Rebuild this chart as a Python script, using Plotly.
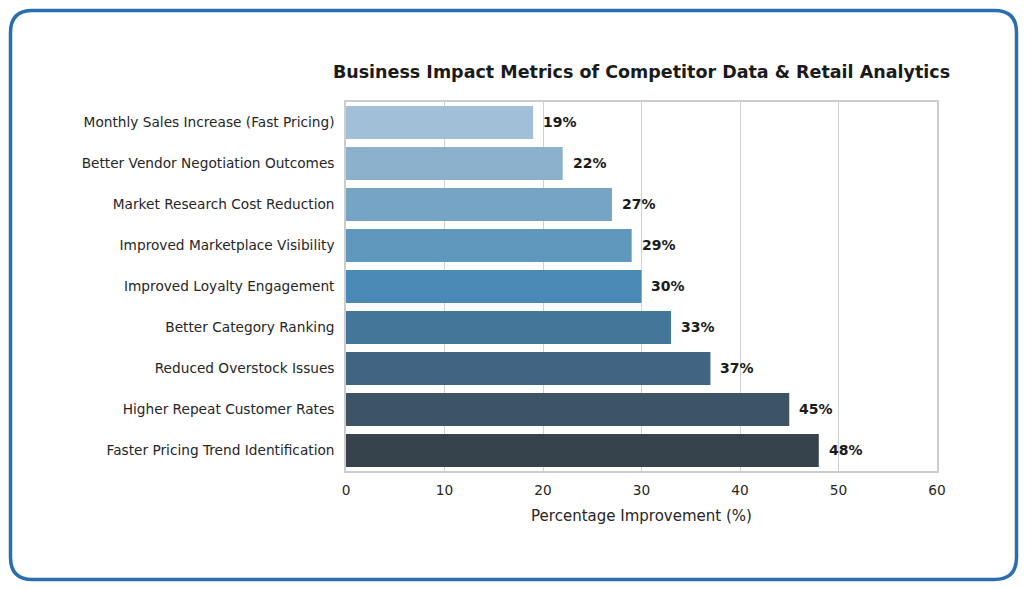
import plotly.graph_objects as go

categories = [
    "Monthly Sales Increase (Fast Pricing)",
    "Better Vendor Negotiation Outcomes",
    "Market Research Cost Reduction",
    "Improved Marketplace Visibility",
    "Improved Loyalty Engagement",
    "Better Category Ranking",
    "Reduced Overstock Issues",
    "Higher Repeat Customer Rates",
    "Faster Pricing Trend Identification",
]
values = [19, 22, 27, 29, 30, 33, 37, 45, 48]
colors = ["#a1bfd6", "#8ab0cb", "#76a4c5", "#6097bd", "#4a88b6",
          "#447699", "#416482", "#3c5466", "#36434c"]
x_ticks = [0, 10, 20, 30, 40, 50, 60]

W, H = 1026, 589
L, R, T, B = 346, 937, 102, 471

fig = go.Figure(go.Bar(
    x=values, y=categories, orientation="h",
    marker=dict(color=colors, line=dict(width=0)),
    width=0.8, hoverinfo="x+y",
))

for c, v in zip(categories, values):
    fig.add_annotation(x=v + 1, y=c, text=f"<b>{v}%</b>", showarrow=False,
                       xanchor="left", yanchor="middle", xshift=-2, yshift=1,
                       font=dict(family="DejaVu Sans", size=14, color="#1a1a1a"))

# rounded border in pixel coords converted to paper coords
def px(xp):
    return (xp - L) / (R - L)
def py(yp):
    return (B - yp) / (B - T)

x0, x1, y0, y1, r = 10.5, 1016.5, 10.5, 579.5, 22
path = (f"M {px(x0 + r)},{py(y0)} L {px(x1 - r)},{py(y0)} "
        f"Q {px(x1)},{py(y0)} {px(x1)},{py(y0 + r)} "
        f"L {px(x1)},{py(y1 - r)} Q {px(x1)},{py(y1)} {px(x1 - r)},{py(y1)} "
        f"L {px(x0 + r)},{py(y1)} Q {px(x0)},{py(y1)} {px(x0)},{py(y1 - r)} "
        f"L {px(x0)},{py(y0 + r)} Q {px(x0)},{py(y0)} {px(x0 + r)},{py(y0)} Z")
fig.add_shape(type="path", path=path, xref="paper", yref="paper",
              line=dict(color="#2a6eb0", width=3.5), layer="above")

fig.update_layout(
    width=W, height=H,
    margin=dict(l=L, r=W - R, t=T, b=H - B, pad=0),
    paper_bgcolor="white", plot_bgcolor="white",
    font=dict(family="DejaVu Sans", size=13, color="#262626"),
    title=dict(text="<b>Business Impact Metrics of Competitor Data & Retail Analytics</b>",
               x=(L + R) / 2 / W, xanchor="center", y=1 - 72 / H, yanchor="middle",
               font=dict(size=17.5, color="#1a1a1a")),
    showlegend=False,
    bargap=0.2,
)
fig.update_xaxes(range=[0, 60], tickvals=x_ticks, showgrid=True, gridcolor="#d0d0d0",
                 gridwidth=1, zeroline=False, showline=True, linecolor="#cccccc",
                 linewidth=1.5, mirror=True, ticks="", ticklabelstandoff=6,
                 title=dict(text="Percentage Improvement (%)", font=dict(size=15), standoff=13),
                 tickfont=dict(size=13.7))
fig.update_yaxes(autorange="reversed", showgrid=False, showline=True, linecolor="#cccccc",
                 linewidth=1.5, mirror=True, ticks="", ticklabelstandoff=7,
                 tickfont=dict(size=13.7))

fig.write_html("out.html")
